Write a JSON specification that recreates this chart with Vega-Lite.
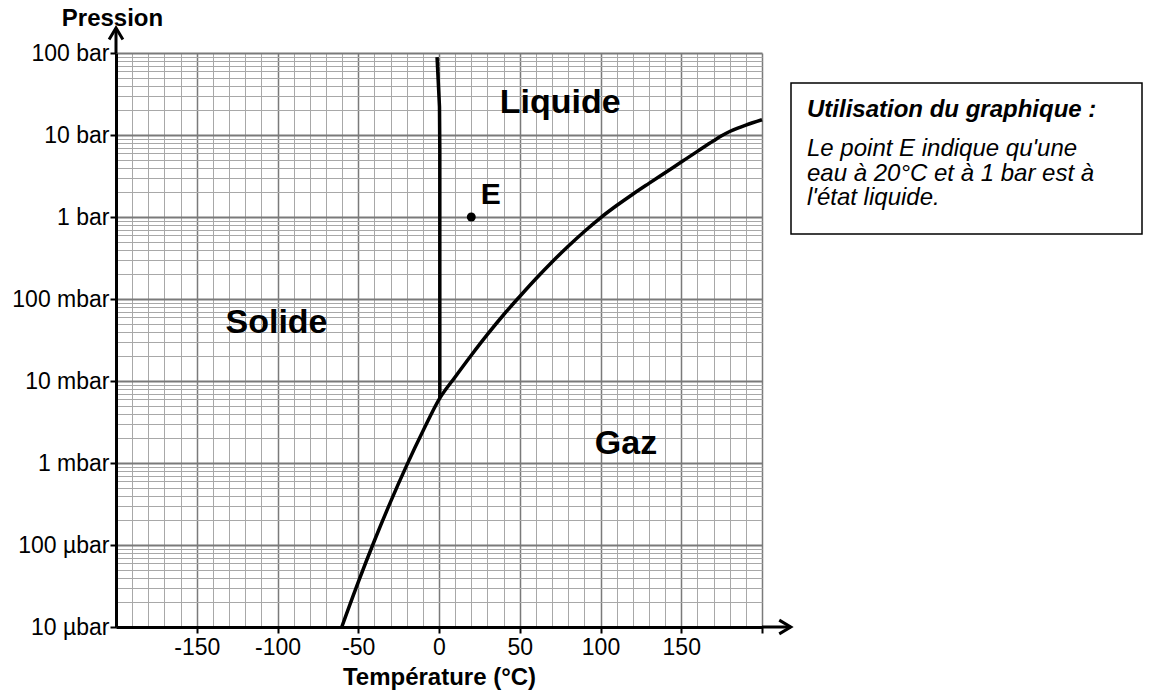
{
  "$schema": "https://vega.github.io/schema/vega-lite/v6.json",
  "padding": {"left": 11, "top": 6, "right": 2, "bottom": 2},
  "config": {"font": "Liberation Sans", "view": {"stroke": null}},
  "datasets": {
    "vap": [
      {"T": -60.2, "P": 0.00001, "o": 0},
      {"T": -50, "P": 0.0000352, "o": 1},
      {"T": -40, "P": 0.0001126, "o": 2},
      {"T": -30, "P": 0.000336, "o": 3},
      {"T": -20, "P": 0.000936, "o": 4},
      {"T": -10, "P": 0.002434, "o": 5},
      {"T": 0.5, "P": 0.00617, "o": 6},
      {"T": 10, "P": 0.01119, "o": 7},
      {"T": 20, "P": 0.0206, "o": 8},
      {"T": 30, "P": 0.03698, "o": 9},
      {"T": 40, "P": 0.06427, "o": 10},
      {"T": 50, "P": 0.1074, "o": 11},
      {"T": 60, "P": 0.1766, "o": 12},
      {"T": 70, "P": 0.2831, "o": 13},
      {"T": 80, "P": 0.4395, "o": 14},
      {"T": 90, "P": 0.6653, "o": 15},
      {"T": 100, "P": 0.9772, "o": 16},
      {"T": 110, "P": 1.38, "o": 17},
      {"T": 120, "P": 1.897, "o": 18},
      {"T": 130, "P": 2.57, "o": 19},
      {"T": 140, "P": 3.467, "o": 20},
      {"T": 150, "P": 4.677, "o": 21},
      {"T": 160, "P": 6.31, "o": 22},
      {"T": 170, "P": 8.492, "o": 23},
      {"T": 175, "P": 9.772, "o": 24},
      {"T": 180, "P": 11.02, "o": 25},
      {"T": 185, "P": 12.16, "o": 26},
      {"T": 190, "P": 13.21, "o": 27},
      {"T": 200, "P": 15.35, "o": 28}
    ],
    "melt": [
      {"T": 0.5, "P": 0.00617, "o": 0},
      {"T": 0.5, "P": 6.6, "o": 1},
      {"T": 0.3, "P": 22, "o": 2},
      {"T": -1.2, "P": 89, "o": 3}
    ],
    "pointE": [{"T": 20, "P": 1}],
    "regions": [
      {"name": "Liquide", "T": 75, "P": 24.4},
      {"name": "Solide", "T": -100.6, "P": 0.0505},
      {"name": "Gaz", "T": 115.8, "P": 0.00169}
    ],
    "labelE": [{"name": "E", "T": 32, "P": 1.876}],
    "axisExt": [
      {"T": 200, "T2": 217.8, "P": 0.00001, "P2": 0.00001},
      {"T": -200, "T2": -200, "P": 100, "P2": 202}
    ],
    "heads": [
      {"T": 217.8, "P": 0.00001, "dir": "right"},
      {"T": -200, "P": 202, "dir": "up"}
    ],
    "note": [
      {"line": 0, "kind": "head", "txt": "Utilisation du graphique :"},
      {"line": 1, "kind": "body", "txt": "Le point E indique qu'une"},
      {"line": 2, "kind": "body", "txt": "eau à 20°C et à 1 bar est à"},
      {"line": 3, "kind": "body", "txt": "l'état liquide."}
    ]
  },
  "bounds": "flush",
  "spacing": 29,
  "hconcat": [
    {
      "width": 646,
      "height": 574,
      "encoding": {
        "x": {
          "field": "T", "type": "quantitative",
          "scale": {"domain": [-200, 200], "nice": false, "zero": false},
          "axis": {
            "values": [-200,-190,-180,-170,-160,-150,-140,-130,-120,-110,-100,-90,-80,-70,-60,-50,-40,-30,-20,-10,0,10,20,30,40,50,60,70,80,90,100,110,120,130,140,150,160,170,180,190,200],
            "title": "Température (°C)",
            "titleFontSize": 24, "titleFontWeight": "bold", "titleColor": "black", "titlePadding": 6,
            "labelExpr": "(datum.value % 50 === 0 && abs(datum.value) < 200) ? datum.value + '' : ''",
            "labelFontSize": 23, "labelColor": "black", "labelPadding": 3, "labelFlush": false, "labelOverlap": false,
            "grid": true,
            "gridColor": {"condition": {"test": "datum.value % 50 === 0", "value": "#7a7a7a"}, "value": "#a8a8a8"},
            "gridWidth": {"condition": {"test": "datum.value % 50 === 0", "value": 1.5}, "value": 1},
            "domain": true, "domainColor": "black", "domainWidth": 3,
            "ticks": true, "tickColor": "black", "tickWidth": 2, "tickSize": 6,
            "tickOpacity": {"condition": {"test": "datum.value % 50 === 0 && datum.value > -200", "value": 1}, "value": 0}
          }
        },
        "y": {
          "field": "P", "type": "quantitative",
          "scale": {"type": "log", "domain": [0.00001, 100], "nice": false},
          "axis": {
            "values": [0.00001,0.00002,0.00003,0.00004,0.00005,0.00006,0.00007,0.00008,0.00009,0.0001,0.0002,0.0003,0.0004,0.0005,0.0006,0.0007,0.0008,0.0009,0.001,0.002,0.003,0.004,0.005,0.006,0.007,0.008,0.009,0.01,0.02,0.03,0.04,0.05,0.06,0.07,0.08,0.09,0.1,0.2,0.3,0.4,0.5,0.6,0.7,0.8,0.9,1,2,3,4,5,6,7,8,9,10,20,30,40,50,60,70,80,90,100],
            "title": "Pression", "titleAngle": 0, "titleX": -4, "titleY": -35, "titleAlign": "center", "titleBaseline": "middle",
            "titleFontSize": 24, "titleFontWeight": "bold", "titleColor": "black",
            "labelExpr": "(abs(log(datum.value)/LN10 - round(log(datum.value)/LN10)) < 0.001) ? ['10 µbar','100 µbar','1 mbar','10 mbar','100 mbar','1 bar','10 bar','100 bar'][round(log(datum.value)/LN10) + 5] : ''",
            "labelFontSize": 23, "labelColor": "black", "labelPadding": 1, "labelFlush": false, "labelOverlap": false,
            "grid": true,
            "gridColor": {"condition": {"test": "abs(log(datum.value)/LN10 - round(log(datum.value)/LN10)) < 0.001", "value": "#7a7a7a"}, "value": "#a8a8a8"},
            "gridWidth": {"condition": {"test": "abs(log(datum.value)/LN10 - round(log(datum.value)/LN10)) < 0.001", "value": 2}, "value": 1},
            "domain": true, "domainColor": "black", "domainWidth": 3,
            "ticks": true, "tickColor": "black", "tickWidth": 2, "tickSize": 6,
            "tickOpacity": {"condition": {"test": "abs(log(datum.value)/LN10 - round(log(datum.value)/LN10)) < 0.001", "value": 1}, "value": 0}
          }
        }
      },
      "layer": [
        {"data": {"name": "vap"}, "mark": {"type": "line", "color": "black", "strokeWidth": 3.5, "interpolate": "monotone"}, "encoding": {"order": {"field": "o", "type": "quantitative"}}},
        {"data": {"name": "melt"}, "mark": {"type": "line", "color": "black", "strokeWidth": 3.5}, "encoding": {"order": {"field": "o", "type": "quantitative"}}},
        {"data": {"name": "pointE"}, "mark": {"type": "circle", "color": "black", "size": 80, "opacity": 1}},
        {"data": {"name": "regions"}, "mark": {"type": "text", "fontSize": 34, "fontWeight": "bold", "color": "black", "baseline": "middle"}, "encoding": {"text": {"field": "name"}}},
        {"data": {"name": "labelE"}, "mark": {"type": "text", "fontSize": 30, "fontWeight": "bold", "color": "black", "baseline": "middle"}, "encoding": {"text": {"field": "name"}}},
        {"data": {"name": "axisExt"}, "mark": {"type": "rule", "color": "black", "strokeWidth": 3}, "encoding": {"x2": {"field": "T2"}, "y2": {"field": "P2"}}},
        {"data": {"name": "heads"}, "mark": {"type": "point", "filled": false, "color": "black", "strokeWidth": 3, "size": 529, "opacity": 1}, "encoding": {"shape": {"field": "dir", "type": "nominal", "scale": {"domain": ["right", "up"], "range": ["M-1,-0.6L0,0L-1,0.6", "M-0.6,1L0,0L0.6,1"]}, "legend": null}}}
      ]
    },
    {
      "bounds": "flush",
      "spacing": 0,
      "vconcat": [
        {"width": 351, "height": 30, "data": {"values": [{}]}, "mark": {"type": "text", "text": ""}},
        {
          "width": 351,
          "height": 151,
          "view": {"stroke": "black", "strokeWidth": 1.5},
          "data": {"name": "note"},
          "encoding": {
            "x": {"datum": 0, "type": "quantitative", "scale": {"domain": [0, 1]}, "axis": null},
            "y": {"field": "line", "type": "quantitative", "scale": {"domain": [-1.694, 4.469], "reverse": true, "nice": false, "zero": false}, "axis": null},
            "text": {"field": "txt"}
          },
          "layer": [
            {"transform": [{"filter": "datum.kind === 'head'"}], "mark": {"type": "text", "align": "left", "baseline": "middle", "dx": 16, "dy": -14.5, "fontSize": 24, "fontWeight": "bold", "fontStyle": "italic", "color": "black"}},
            {"transform": [{"filter": "datum.kind === 'body'"}], "mark": {"type": "text", "align": "left", "baseline": "middle", "dx": 16, "fontSize": 24, "fontStyle": "italic", "color": "black"}}
          ]
        }
      ]
    }
  ]
}
